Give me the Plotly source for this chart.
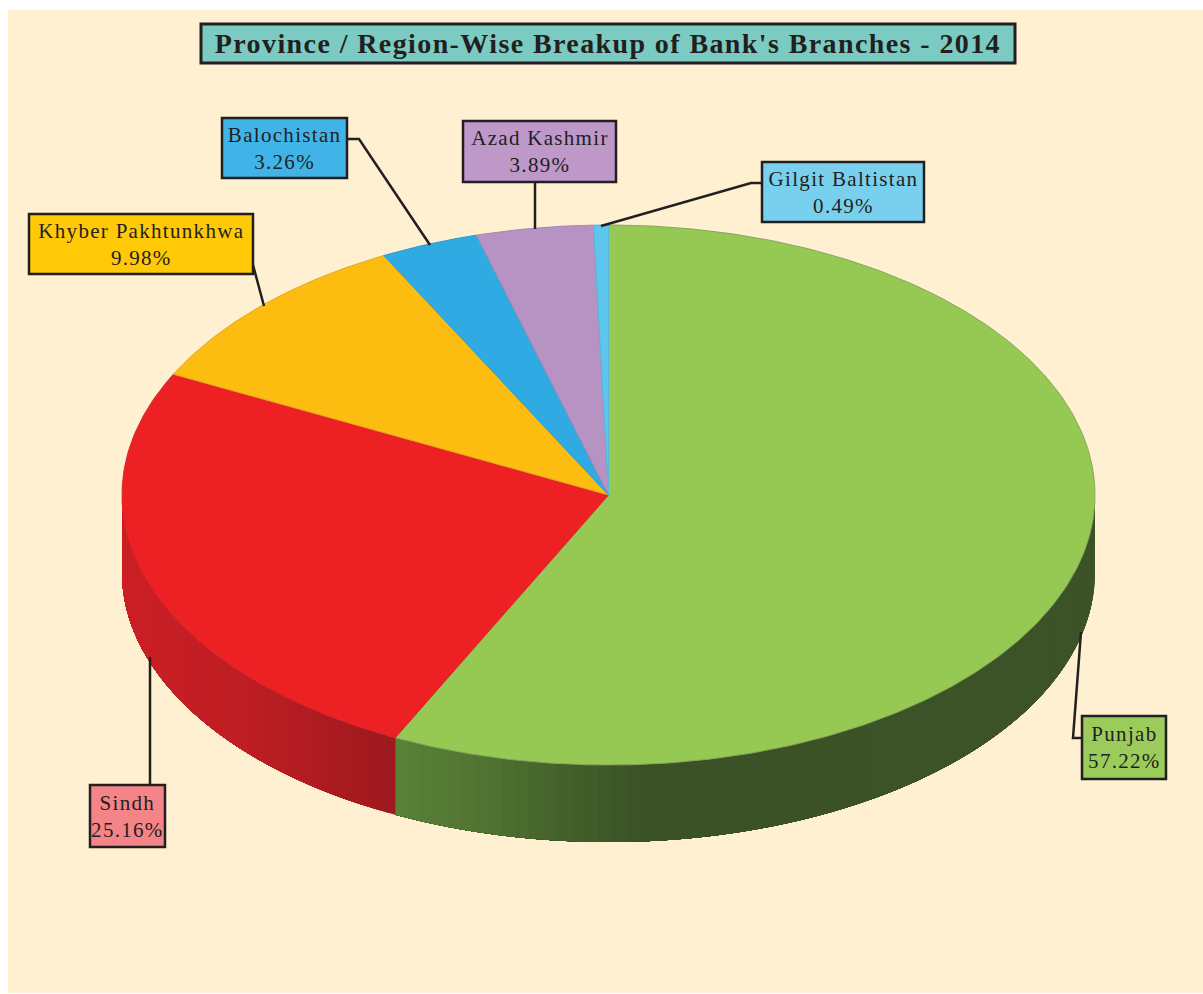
import numpy as np
import plotly.graph_objects as go

# ---- data ----
categories = ["Punjab", "Sindh", "Khyber Pakhtunkhwa", "Balochistan", "Azad Kashmir", "Gilgit Baltistan"]
shares = [57.22, 25.16, 9.98, 3.26, 3.89, 0.49]
chart_title = "Province / Region-Wise Breakup of Bank's Branches - 2014"

# ---- styles / layout ----
W, H = 1203, 994
CX, CY, RX, RY, DEPTH = 608.5, 495, 486.5, 270, 77
face_colors = ["#96c954", "#ed2024", "#fdbd10", "#2faae2", "#b793c4", "#5cc6ee"]
edge_colors = ["#86a85a", "#d8282a", "#e0a820", "#2b9ccf", "#a387b2", "#55b8dc"]
box_colors = ["#9bcb5a", "#f58488", "#ffc907", "#40b4e8", "#bd98c8", "#79d0ee"]
boxes = [(1082, 716, 1166, 779), (90, 785, 165, 847), (29, 214, 253, 274),
         (222, 118, 347, 178), (463, 121, 616, 182), (762, 162, 924, 222)]
leaders = [[(1082, 738), (1073, 738), (1081, 632)],
           [(150, 785), (150, 657)],
           [(253, 265), (264, 306)],
           [(347, 139), (359, 139), (430, 245)],
           [(535, 182), (535, 229)],
           [(762, 183), (751, 183), (601, 226)]]
INK = "#231f20"
BG = "#fef0d0"
FONT = "Liberation Serif"
wall_stops = {
    0: [(396, (90, 132, 58)), (470, (84, 120, 52)), (560, (70, 100, 44)), (650, (58, 82, 38)), (1095, (60, 84, 38))],
    1: [(122, (204, 32, 38)), (250, (190, 30, 36)), (396, (158, 26, 30))],
}


def ellipse(t_deg, dy=0.0):
    t = np.radians(t_deg)
    return CX + RX * np.sin(t), CY - RY * np.cos(t) + dy


def wall_color(x, stops):
    xs = [s[0] for s in stops]
    rgb = [np.interp(x, xs, [s[1][i] for s in stops]) for i in range(3)]
    return "rgb(%d,%d,%d)" % tuple(int(c) for c in rgb)


fig = go.Figure()

# wedge angle limits come straight from the shares
total = sum(shares)
limits = np.concatenate([[0], np.cumsum(shares) / total * 360])

# side walls (only the front half of the disc is visible); each band runs on to the
# far end of its wedge, and the next band paints over it, so no seams show
for i, stops in wall_stops.items():
    a = max(limits[i], 90)
    b = min(limits[i + 1], 270)
    for t0 in np.linspace(a, b, 71)[:-1]:
        ts = np.linspace(t0, b, 60)
        x_top, y_top = ellipse(ts)
        x_bot, y_bot = ellipse(ts[::-1], DEPTH)
        col = wall_color(float(ellipse(t0)[0]), stops)
        fig.add_trace(go.Scatter(
            x=np.concatenate([x_top, x_bot]), y=np.concatenate([y_top, y_bot]),
            mode="none", fill="toself", fillcolor=col,
            hoverinfo="skip", showlegend=False))

# top faces
for i, name in enumerate(categories):
    ts = np.linspace(limits[i], limits[i + 1], max(int(shares[i] * 6), 12))
    x_arc, y_arc = ellipse(ts)
    fig.add_trace(go.Scatter(
        x=np.concatenate([[CX], x_arc, [CX]]), y=np.concatenate([[CY], y_arc, [CY]]),
        mode="lines", fill="toself", fillcolor=face_colors[i],
        line=dict(color=edge_colors[i], width=1), name=name, showlegend=False,
        hovertemplate=f"{name}: {shares[i]:.2f}%<extra></extra>"))

# leader lines
for pts in leaders:
    fig.add_trace(go.Scatter(x=[p[0] for p in pts], y=[p[1] for p in pts], mode="lines",
                             line=dict(color=INK, width=2.5), hoverinfo="skip", showlegend=False))

shapes = [dict(type="rect", xref="x", yref="y", x0=8, y0=10, x1=W, y1=993,
               fillcolor=BG, line=dict(width=0), layer="below")]
annotations = []
for i, name in enumerate(categories):
    x0, y0, x1, y1 = boxes[i]
    shapes.append(dict(type="rect", xref="x", yref="y", x0=x0, y0=y0, x1=x1, y1=y1,
                       fillcolor=box_colors[i], line=dict(color=INK, width=2.5), layer="above"))
    annotations.append(dict(x=(x0 + x1) / 2, y=(y0 + y1) / 2, xref="x", yref="y", showarrow=False,
                            text=f"{name}<br>{shares[i]:.2f}%", align="center",
                            font=dict(family=FONT, size=21, color=INK)))

# title box
shapes.append(dict(type="rect", xref="x", yref="y", x0=201, y0=24, x1=1015, y1=63,
                   fillcolor="#7bcbc3", line=dict(color=INK, width=3), layer="above"))
annotations.append(dict(x=608, y=43, xref="x", yref="y", showarrow=False, text=f"<b>{chart_title}</b>",
                        font=dict(family=FONT, size=28, color=INK)))

fig.update_layout(
    width=W, height=H, margin=dict(l=0, r=0, t=0, b=0),
    paper_bgcolor="white", plot_bgcolor="white", showlegend=False,
    xaxis=dict(range=[0, W], visible=False, fixedrange=True),
    yaxis=dict(range=[H, 0], visible=False, fixedrange=True),
    shapes=shapes, annotations=annotations,
)

post = """
document.body.style.margin='0';
document.body.style.overflow='hidden';
var labels=document.querySelectorAll('.annotation-text');
labels.forEach(function(t,i){t.style.letterSpacing=(i===labels.length-1)?'1.4px':'1.3px';});
"""
fig.write_html("out.html", config=dict(displayModeBar=False), post_script=post)
